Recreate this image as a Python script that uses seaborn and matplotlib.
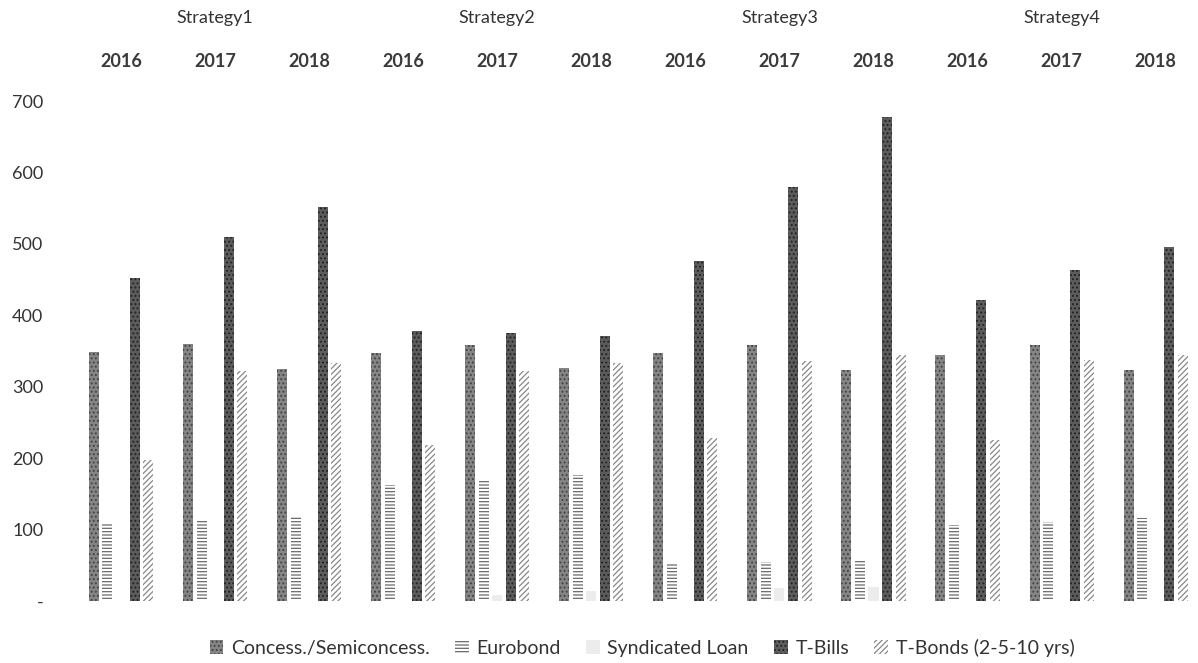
import matplotlib
matplotlib.use("Agg")
import matplotlib.pyplot as plt
import pandas as pd
import seaborn as sns

# data
strategies = ["Strategy1", "Strategy2", "Strategy3", "Strategy4"]
years = ["2016", "2017", "2018"]
series = ["Concess./Semiconcess.", "Eurobond", "Syndicated Loan", "T-Bills", "T-Bonds (2-5-10 yrs)"]

concess = [348, 360, 325, 347, 359, 326, 347, 359, 324, 345, 358, 324]
eurobond = [109, 112, 118, 162, 169, 176, 52, 55, 58, 107, 111, 116]
syndicated = [0, 0, 0, 0, 8, 14, 0, 18, 20, 0, 0, 0]
tbills = [452, 509, 551, 378, 375, 371, 476, 579, 678, 421, 463, 496]
tbonds = [198, 322, 333, 218, 322, 333, 228, 336, 345, 226, 337, 345]

groups = [s + " " + y for s in strategies for y in years]
values = [concess, eurobond, syndicated, tbills, tbonds]

rows = []
for name, vals in zip(series, values):
    for g, v in zip(groups, vals):
        rows.append({"group": g, "series": name, "value": v})
df = pd.DataFrame(rows)

sns.set_style("white")
plt.rcParams["font.family"] = ["Lato", "DejaVu Sans"]
plt.rcParams["hatch.linewidth"] = 0.9

fig = plt.figure(figsize=(11.98, 6.63), dpi=100)
ax = fig.add_axes([74 / 1198, 62 / 663, 1124 / 1198, 500 / 663])

sns.barplot(data=df, x="group", y="value", hue="series", order=groups,
            hue_order=series, width=0.72, gap=0.26, legend=False, ax=ax,
            palette=["#858585", "#ffffff", "#ececec", "#5c5c5c", "#ffffff"])

# grey print-style fills
styles = [
    ("#858585", "#444444", "...."),
    ("#ffffff", "#6a6a6a", "-----"),
    ("#ececec", "#ececec", ""),
    ("#5c5c5c", "#222222", "...."),
    ("#ffffff", "#888888", "//////"),
]
for cont, (fc, ec, h) in zip(ax.containers, styles):
    for p in cont:
        p.set_facecolor(fc)
        p.set_edgecolor(ec)
        p.set_hatch(h)
        p.set_linewidth(0)

ax.set_xlim(-0.5, 11.45)
ax.set_ylim(0, 700)
ax.set_yticks(range(0, 701, 100))
ax.set_yticklabels(["-"] + [str(v) for v in range(100, 701, 100)])
ax.xaxis.tick_top()
ax.set_xticks(range(len(groups)))
ax.set_xticklabels([g.split()[1] for g in groups], fontweight="bold")
ax.tick_params(axis="x", length=0, pad=22, labelsize=13, labelcolor="#3a3a3a")
ax.tick_params(axis="y", length=0, pad=22, labelsize=13, labelcolor="#333333")
ax.set_xlabel("")
ax.set_ylabel("")
for s in ax.spines.values():
    s.set_visible(False)

for i, s in enumerate(strategies):
    ax.text(i * 3 + 1, 1.166, s, transform=ax.get_xaxis_transform(),
            ha="center", va="center", fontsize=13, color="#333333")

ax.legend(ax.containers, series, loc="center", bbox_to_anchor=(642 / 1198, 1 - 648 / 663),
          bbox_transform=fig.transFigure, ncol=5, frameon=False, fontsize=14,
          handlelength=0.7, handleheight=0.7, handletextpad=0.4, columnspacing=1.3,
          labelcolor="#333333")

fig.savefig("out.png", dpi=100)
